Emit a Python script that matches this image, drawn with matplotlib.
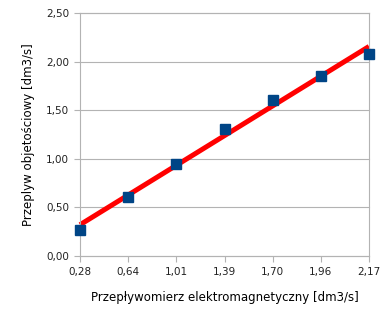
import matplotlib
matplotlib.use("Agg")
import matplotlib.pyplot as plt
import numpy as np

categories = ["0,28", "0,64", "1,01", "1,39", "1,70", "1,96", "2,17"]
values = [0.27, 0.61, 0.95, 1.31, 1.60, 1.85, 2.08]
y_ticks = [0.0, 0.5, 1.0, 1.5, 2.0, 2.5]

fig = plt.figure(figsize=(3.89, 3.22), dpi=100)
ax = fig.add_axes([80/389, 1-256/322, (369-80)/389, (256-13)/322])

x = np.arange(len(categories))
grid_c = "#b3b3b3"
for yt in y_ticks:
    ax.axhline(yt, color=grid_c, lw=0.8, zorder=0)

coef = np.polyfit(x, values, 1)
ax.plot(x, np.polyval(coef, x), color="#ff0000", lw=3.6, solid_capstyle="butt", zorder=2)
ax.plot(x, values, linestyle="none", marker="s", ms=7.5, color="#004586", zorder=3)

ax.set_xlim(0, len(categories) - 1)
ax.set_ylim(0, 2.5)
ax.set_xticks(x)
ax.set_xticklabels(categories)
ax.set_yticks(y_ticks)
ax.set_yticklabels([f"{v:.2f}".replace(".", ",") for v in y_ticks])
for s in ax.spines.values():
    s.set_color(grid_c)
    s.set_linewidth(0.8)
ax.tick_params(colors=grid_c, labelcolor="#222222", labelsize=7.5, length=4, width=0.8, pad=4)
ax.set_xlabel("Przepływomierz elektromagnetyczny [dm3/s]", fontsize=8.5, labelpad=10)
ax.set_ylabel("Przeplyw objetościowy [dm3/s]", fontsize=8.5, labelpad=8)
ax.set_clip_on(False)
for ln in ax.lines:
    ln.set_clip_on(False)

fig.savefig("out.png", dpi=100)
